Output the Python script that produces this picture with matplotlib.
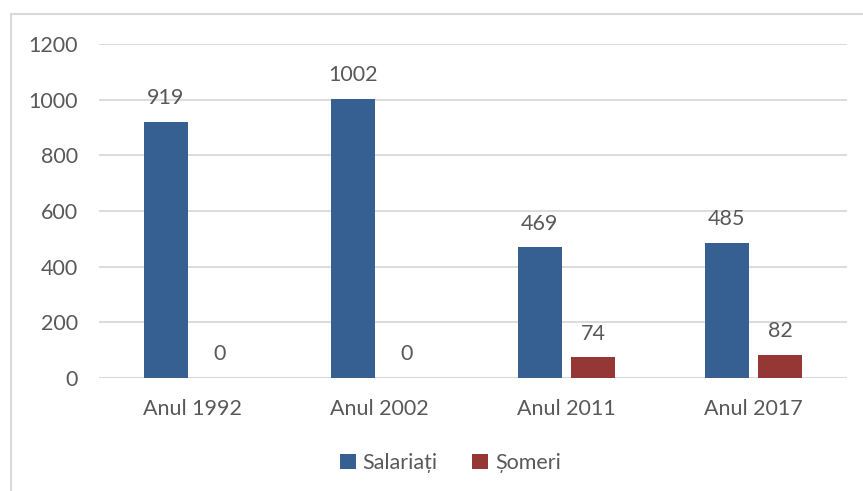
import matplotlib
matplotlib.use("Agg")
import matplotlib.pyplot as plt
from matplotlib.patches import Rectangle
import numpy as np

CATEGORIES = ["Anul 1992", "Anul 2002", "Anul 2011", "Anul 2017"]
SALARIATI = [919, 1002, 469, 485]
SOMERI = [0, 0, 74, 82]
SERIES_NAMES = ["Salariați", "Șomeri"]
Y_TICKS = [0, 200, 400, 600, 800, 1000, 1200]

COLORS = ["#366092", "#953735"]
TEXT = "#595959"
GRID = "#d9d9d9"

plt.rcParams["font.family"] = ["Lato", "DejaVu Sans"]

fig = plt.figure(figsize=(8.63, 4.91), dpi=100)
ax = fig.add_axes([0.1147, 0.2301, 0.8668, 0.6803])

x = np.arange(len(CATEGORIES))
width = 0.235
offset = 0.144

for vals, off, color, name in zip([SALARIATI, SOMERI], [-offset, offset], COLORS, SERIES_NAMES):
    bars = ax.bar(x + off, vals, width, color=color, label=name, zorder=3)
    for bar, v in zip(bars, vals):
        ax.annotate(f"{v}", (bar.get_x() + bar.get_width() / 2, v),
                    xytext=(0, 10), textcoords="offset points",
                    ha="center", va="bottom", fontsize=15.5, color=TEXT)

ax.set_xlim(-0.5, len(CATEGORIES) - 0.5)
ax.set_ylim(0, 1200)
ax.set_yticks(Y_TICKS)
ax.set_xticks(x)
ax.set_xticklabels(CATEGORIES)
ax.tick_params(axis="both", length=0, labelsize=15.5, labelcolor=TEXT)
ax.tick_params(axis="y", pad=15)
ax.tick_params(axis="x", pad=15)
ax.grid(axis="y", color=GRID, linewidth=1.3, zorder=0)
ax.set_axisbelow(True)
for s in ax.spines.values():
    s.set_visible(False)
ax.axhline(0, color=GRID, linewidth=1.5, zorder=2)

leg = fig.legend(loc="center", bbox_to_anchor=(0.522, 1 - 463 / 491), ncol=2,
                 frameon=False, fontsize=15.5, handlelength=0.75, handleheight=0.75,
                 handletextpad=0.3, columnspacing=1.6)
for t in leg.get_texts():
    t.set_color(TEXT)

# outer chart border (right and bottom edges fall outside the picture)
fig.patches.append(Rectangle((11 / 863, -0.05), 1.0, 1 - 14 / 491 + 0.05,
                             transform=fig.transFigure, fill=False,
                             edgecolor=GRID, linewidth=1.5))

fig.savefig("out.png", dpi=100)
